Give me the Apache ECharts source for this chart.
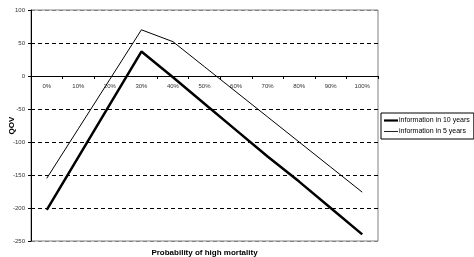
<!DOCTYPE html>
<html>
<head>
<meta charset="UTF-8">
<title>QOV</title>
<script src="https://cdn.jsdelivr.net/npm/echarts@6/dist/echarts.min.js"></script>
<style>
    html, body { margin: 0; padding: 0; background: #fff; }
</style>
</head>
<body>
<div id="main" style="width:474px;height:257px;"></div>
<script>
    var categories = ['0%', '10%', '20%', '30%', '40%', '50%', '60%', '70%', '80%', '90%', '100%'];
    var info10 = [-203, -123, -43, 37, -2, -42, -82, -122, -160, -200, -240];
    var info5 = [-155, -80, -5, 70, 52, 14, -24, -62, -100, -138, -176];
    var seriesNames = ['information in 10 years', 'information in 5 years'];

    var myChart = echarts.init(document.getElementById('main'));

    var font = 'Liberation Sans, Arial, sans-serif';

    var option = {
        backgroundColor: '#fff',
        animation: false,
        textStyle: { fontFamily: font },
        grid: {
            left: 31, right: 96, top: 10, bottom: 16,
            containLabel: false,
            outerBoundsMode: 'none',
            show: true,
            borderColor: '#808080',
            borderWidth: 1
        },
        legend: {
            orient: 'vertical',
            left: 381, top: 113,
            data: [
                { name: seriesNames[0], icon: 'path://M0,0H16V2.5H0Z' },
                { name: seriesNames[1], icon: 'path://M0,0H16V1H0Z' }
            ],
            borderColor: '#000',
            borderWidth: 1,
            padding: [4, 4, 4, 3],
            itemGap: 4,
            itemWidth: 14,
            itemHeight: 8,
            textStyle: { fontSize: 7, color: '#000', fontFamily: font, padding: [0, 0, 0, -4] }
        },
        xAxis: {
            type: 'category',
            data: categories,
            boundaryGap: true,
            // axis sits on the value 0 line (0 is 100/350 of the way down)
            position: 'bottom',
            offset: -165,
            axisLine: { onZero: false, lineStyle: { color: '#000', width: 1 } },
            axisTick: { show: true, length: 3, lineStyle: { color: '#000' } },
            axisLabel: { fontSize: 6, color: '#333', margin: 7, fontFamily: font },
            splitLine: { show: false },
            name: 'Probability of high mortality',
            nameLocation: 'middle',
            nameGap: 173,
            nameMoveOverlap: false,
            nameTextStyle: { fontSize: 8, fontWeight: 'bold', color: '#000', fontFamily: font }
        },
        yAxis: {
            type: 'value',
            min: -250, max: 100, interval: 50,
            axisLine: { show: true, lineStyle: { color: '#000', width: 1 } },
            axisTick: { show: true, length: 3, lineStyle: { color: '#000' } },
            axisLabel: { fontSize: 6, color: '#333', margin: 6, fontFamily: font },
            splitLine: {
                show: true,
                lineStyle: {
                    color: ['#808080', '#000', '#000', '#000', '#000', '#000', '#000', '#808080'],
                    type: [4, 3],
                    width: 1
                }
            },
            name: 'QOV',
            nameLocation: 'middle',
            nameRotate: 90,
            nameGap: 15,
            nameMoveOverlap: false,
            nameTextStyle: { fontSize: 8, fontWeight: 'bold', color: '#000', fontFamily: font }
        },
        series: [
            {
                name: seriesNames[0],
                type: 'line',
                data: info10,
                symbol: 'none',
                color: '#000',
                lineStyle: { color: '#000', width: 2.5 }
            },
            {
                name: seriesNames[1],
                type: 'line',
                data: info5,
                symbol: 'none',
                color: '#000',
                lineStyle: { color: '#000', width: 1 }
            }
        ]
    };

    myChart.setOption(option);
</script>
</body>
</html>
